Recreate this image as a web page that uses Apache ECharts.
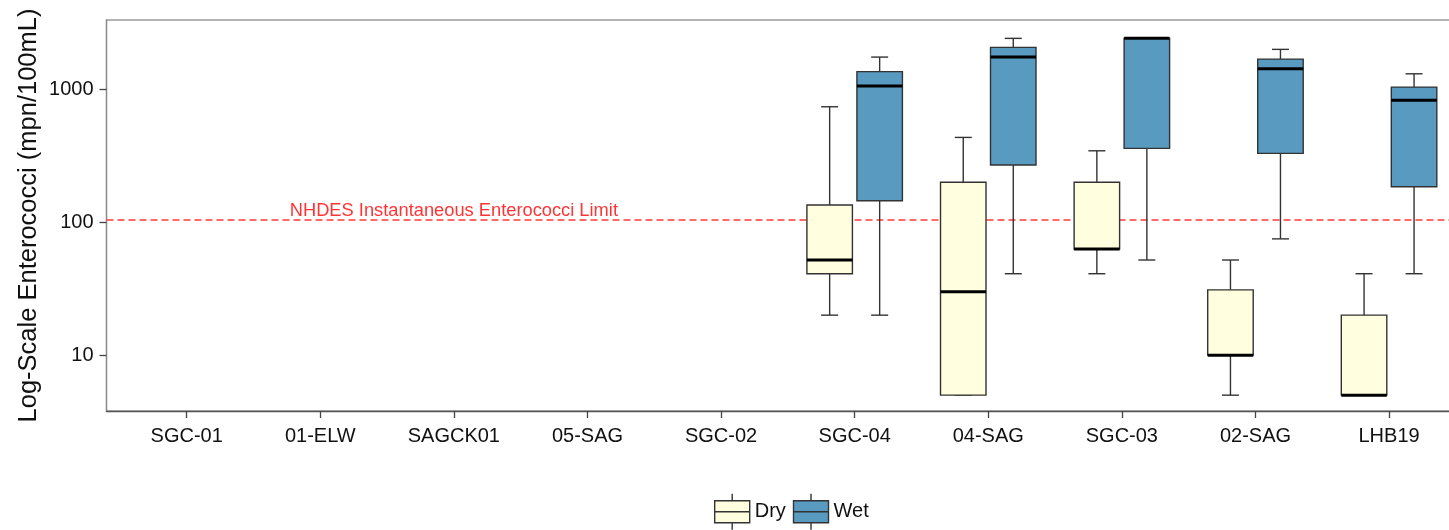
<!DOCTYPE html>
<html>
<head>
<meta charset="utf-8">
<title>Enterococci by site</title>
<script src="https://cdn.jsdelivr.net/npm/echarts@6.0.0/dist/echarts.min.js"></script>
<style>
  html, body { margin: 0; padding: 0; background: #ffffff; }
  #chart { width: 1449px; height: 530px; }
</style>
</head>
<body>
<div id="chart"></div>
<script>
// Sampling sites along the x axis
const categories = ['SGC-01', '01-ELW', 'SAGCK01', '05-SAG', 'SGC-02', 'SGC-04', '04-SAG', 'SGC-03', '02-SAG', 'LHB19'];

// Sites that have samples, with [min, q1, median, q3, max] in mpn/100mL
const sampledSites = ['SGC-04', '04-SAG', 'SGC-03', '02-SAG', 'LHB19'];
const dryStats = [
  [20, 41, 52, 135, 740],
  [5, 5, 30, 200, 435],
  [41, 63, 63, 200, 345],
  [5, 10, 10, 31, 52],
  [5, 5, 5, 20, 41]
];
const wetStats = [
  [20, 145, 1060, 1360, 1750],
  [41, 270, 1750, 2070, 2420],
  [52, 360, 2420, 2420, 2420],
  [75, 330, 1430, 1690, 2000],
  [41, 185, 830, 1040, 1310]
];

// State instantaneous limit and the log axis
const limitValue = 104;
const limitLabel = 'NHDES Instantaneous Enterococci Limit';
const limitLabelSite = 'SAGCK01';
const yTicks = [10, 100, 1000];
const yMin = 3.8;
const yMax = 3327;

const FONT = '"Liberation Sans", Arial, Helvetica, sans-serif';
const DRY_FILL = '#FFFFE0';
const WET_FILL = '#599BC0';
const EDGE = '#333333';

function toRows(stats) {
  return stats.map((s, i) => [categories.indexOf(sampledSites[i])].concat(s));
}

// Draws one box: whiskers with short caps, the box, and a heavy median bar
function boxRenderer(shift) {
  const halfBox = 22.75;
  const halfCap = 8.5;
  return function (params, api) {
    const idx = api.value(0);
    const xc = api.coord([idx, api.value(3)])[0] + shift;
    const y = (k) => api.coord([idx, api.value(k)])[1];
    const yLo = y(1), yQ1 = y(2), yMed = y(3), yQ3 = y(4), yHi = y(5);
    const line = { stroke: EDGE, lineWidth: 1.4 };
    return {
      type: 'group',
      children: [
        { type: 'line', shape: { x1: xc, y1: yQ3, x2: xc, y2: yHi }, style: line },
        { type: 'line', shape: { x1: xc, y1: yQ1, x2: xc, y2: yLo }, style: line },
        { type: 'line', shape: { x1: xc - halfCap, y1: yHi, x2: xc + halfCap, y2: yHi }, style: line },
        { type: 'line', shape: { x1: xc - halfCap, y1: yLo, x2: xc + halfCap, y2: yLo }, style: line },
        {
          type: 'rect',
          shape: { x: xc - halfBox, y: yQ3, width: halfBox * 2, height: yQ1 - yQ3 },
          style: { fill: api.visual('color'), stroke: EDGE, lineWidth: 1.4 }
        },
        { type: 'line', shape: { x1: xc - halfBox, y1: yMed, x2: xc + halfBox, y2: yMed }, style: { stroke: '#000', lineWidth: 3 } }
      ]
    };
  };
}

const boxIcon = 'path://M0,7 L35,7 L35,29 L0,29 Z M0,18 L35,18 M17.5,0 L17.5,7 M17.5,29 L17.5,36';

const plotLeft = 106.5;
const plotTop = 20;
const plotHeight = 391;
const band = 133.6;

const option = {
  animation: false,
  backgroundColor: '#ffffff',
  textStyle: { fontFamily: FONT },
  legend: {
    left: 714,
    top: 493,
    padding: 0,
    itemWidth: 35,
    itemHeight: 36,
    itemGap: 7,
    textStyle: { fontSize: 20, color: '#111', fontFamily: FONT },
    data: [
      { name: 'Dry', icon: boxIcon, itemStyle: { color: DRY_FILL, borderColor: EDGE, borderWidth: 1.4 } },
      { name: 'Wet', icon: boxIcon, itemStyle: { color: WET_FILL, borderColor: EDGE, borderWidth: 1.4 } }
    ]
  },
  grid: [
    {
      left: plotLeft, top: plotTop, width: band * 10.2, height: plotHeight,
      outerBoundsMode: 'none', containLabel: false,
      show: true, borderColor: '#9a9a9a', borderWidth: 1.3, backgroundColor: 'transparent'
    },
    {
      left: plotLeft + band * 0.1, top: plotTop, width: band * 10, height: plotHeight,
      outerBoundsMode: 'none', containLabel: false
    }
  ],
  xAxis: [
    {
      gridIndex: 0, type: 'value', min: 0, max: 1,
      axisLine: { show: true, onZero: false, lineStyle: { color: '#555', width: 1.3 } },
      axisTick: { show: false }, axisLabel: { show: false }, splitLine: { show: false }
    },
    {
      gridIndex: 1, type: 'category', data: categories, boundaryGap: true,
      axisLine: { show: false },
      axisTick: { show: true, alignWithLabel: true, length: 7, lineStyle: { color: '#444', width: 1.3 } },
      axisLabel: { fontSize: 20, color: '#111', margin: 15, fontFamily: FONT },
      splitLine: { show: false }
    }
  ],
  yAxis: [
    {
      gridIndex: 0, type: 'log', logBase: 10, min: yMin, max: yMax,
      axisLine: { show: true, onZero: false, lineStyle: { color: '#8a8a8a', width: 1.3 } },
      axisTick: { show: true, length: 7, customValues: yTicks, lineStyle: { color: '#444', width: 1.3 } },
      axisLabel: {
        customValues: yTicks, fontSize: 20, color: '#111', margin: 13, fontFamily: FONT,
        formatter: (v) => String(Math.round(v))
      },
      splitLine: { show: false },
      name: 'Log-Scale Enterococci (mpn/100mL)',
      nameLocation: 'middle',
      nameMoveOverlap: false,
      nameGap: 65,
      nameTextStyle: { fontSize: 25.5, color: '#111', fontFamily: FONT }
    },
    {
      gridIndex: 1, type: 'log', logBase: 10, min: yMin, max: yMax, show: false
    }
  ],
  series: [
    {
      name: 'limit',
      type: 'line',
      xAxisIndex: 0, yAxisIndex: 0,
      data: [[0, limitValue], [1, limitValue]],
      symbol: 'none', silent: true,
      lineStyle: { color: '#ff3a3a', width: 1.3, type: [7, 4] },
      z: 1
    },
    {
      name: 'limitText',
      type: 'scatter',
      xAxisIndex: 1, yAxisIndex: 1,
      data: [[limitLabelSite, limitValue]],
      symbolSize: 0, silent: true,
      label: {
        show: true, position: 'top', distance: 0,
        formatter: limitLabel,
        color: '#ff0000', fontSize: 18.3, fontFamily: FONT
      }
    },
    {
      name: 'Dry',
      type: 'custom',
      xAxisIndex: 1, yAxisIndex: 1,
      itemStyle: { color: DRY_FILL, borderColor: EDGE, borderWidth: 1.4 },
      encode: { x: 0, y: [1, 2, 3, 4, 5] },
      data: toRows(dryStats),
      renderItem: boxRenderer(-25),
      z: 3
    },
    {
      name: 'Wet',
      type: 'custom',
      xAxisIndex: 1, yAxisIndex: 1,
      itemStyle: { color: WET_FILL, borderColor: EDGE, borderWidth: 1.4 },
      encode: { x: 0, y: [1, 2, 3, 4, 5] },
      data: toRows(wetStats),
      renderItem: boxRenderer(25),
      z: 3
    }
  ]
};

const chart = echarts.init(document.getElementById('chart'), null, { renderer: 'canvas' });
chart.setOption(option);
</script>
</body>
</html>
